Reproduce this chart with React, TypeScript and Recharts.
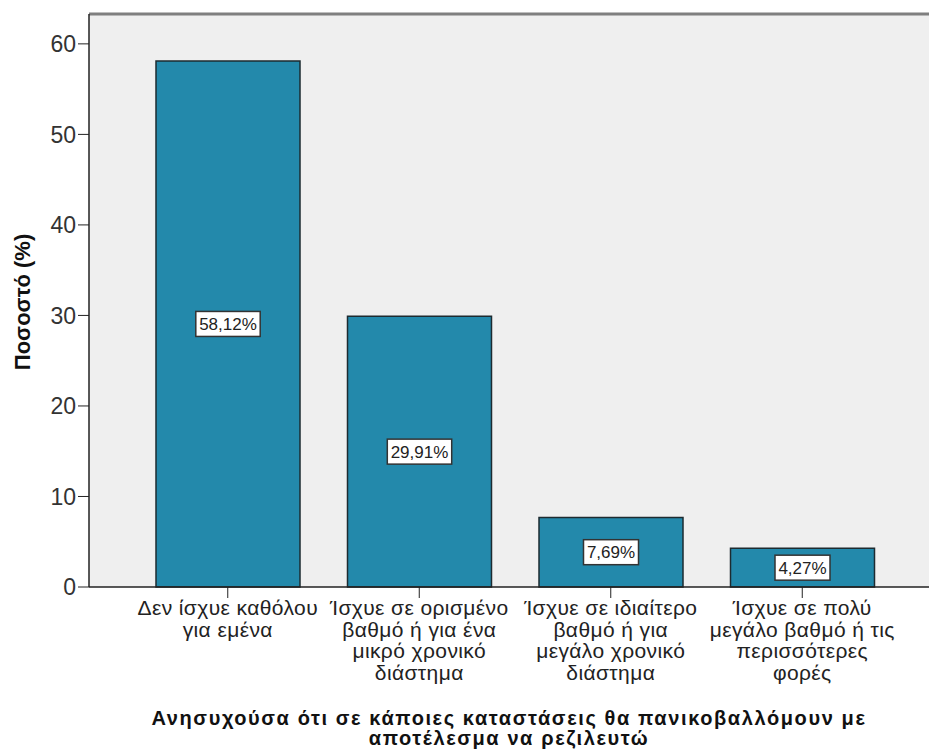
import { BarChart, Bar, XAxis, YAxis, CartesianGrid, ReferenceLine, LabelList } from "recharts";

const categories: Array<string> = [
  "Δεν ίσχυε καθόλου για εμένα",
  "Ίσχυε σε ορισμένο βαθμό ή για ένα μικρό χρονικό διάστημα",
  "Ίσχυε σε ιδιαίτερο βαθμό ή για μεγάλο χρονικό διάστημα",
  "Ίσχυε σε πολύ μεγάλο βαθμό ή τις περισσότερες φορές",
];

// how SPSS wrapped each category label
const categoryLines: Array<Array<string>> = [
  ["Δεν ίσχυε καθόλου", "για εμένα"],
  ["Ίσχυε σε ορισμένο", "βαθμό ή για ένα", "μικρό χρονικό", "διάστημα"],
  ["Ίσχυε σε ιδιαίτερο", "βαθμό ή για", "μεγάλο χρονικό", "διάστημα"],
  ["Ίσχυε σε πολύ", "μεγάλο βαθμό ή τις", "περισσότερες", "φορές"],
];

const percentages: Array<number> = [58.12, 29.91, 7.69, 4.27];
const yTicks: Array<number> = [0, 10, 20, 30, 40, 50, 60];
const yMax = 63.3;

const xTitle = [
  "Ανησυχούσα ότι σε κάποιες καταστάσεις θα πανικοβαλλόμουν με",
  "αποτέλεσμα να ρεζιλευτώ",
];
const yTitle = "Ποσοστό (%)";

const data = categories.map((name, i) => ({ name, value: percentages[i] }));

const FONT = "'Liberation Sans', Arial, sans-serif";

const CategoryTick = (props: any) => {
  const { x, y, payload } = props;
  const lines = categoryLines[payload.index] || [payload.value];
  return (
    <text textAnchor="middle" fontFamily={FONT} fontSize={21} letterSpacing={0.4} fill="#222">
      {lines.map((line, i) => (
        <tspan key={i} x={x} y={y + 17 + i * 21.5}>
          {line}
        </tspan>
      ))}
    </text>
  );
};

const ValueBox = (props: any) => {
  const { x, y, width, height, value } = props;
  const text = value.toFixed(2).replace(".", ",") + "%";
  const cx = x + width / 2;
  const cy = y + height / 2;
  const w = text.length * 9.4 + 8;
  return (
    <g>
      <rect x={cx - w / 2} y={cy - 12.5} width={w} height={25} fill="#fff" stroke="#333" strokeWidth={1.5} />
      <text x={cx} y={cy + 6} textAnchor="middle" fontFamily={FONT} fontSize={17} fill="#222">
        {text}
      </text>
    </g>
  );
};

const App = () => {
  return (
    <div style={{ position: "absolute", left: 0, top: 0, background: "#fff" }}>
      <BarChart
        width={929}
        height={755}
        data={data}
        margin={{ top: 14, right: 0, left: 0, bottom: 0 }}
        barSize={144}
      >
        <CartesianGrid fill="#efefef" horizontal={false} vertical={false} />
        <ReferenceLine y={yMax} stroke="#7f7f7f" strokeWidth={3} />
        <XAxis
          dataKey="name"
          height={168}
          padding={{ left: 43, right: 31 }}
          tickSize={11}
          tickMargin={0}
          tick={<CategoryTick />}
          interval={0}
          stroke="#222"
          axisLine={{ stroke: "#222", strokeWidth: 1.5 }}
          label={{
            content: (p: any) => {
              const vb = p.viewBox;
              const cx = vb.x + vb.width / 2;
              return (
                <text
                  textAnchor="middle"
                  fontFamily={FONT}
                  fontSize={20}
                  letterSpacing={1.6}
                  fontWeight="bold"
                  fill="#111"
                >
                  <tspan x={cx} y={725}>{xTitle[0]}</tspan>
                  <tspan x={cx} y={745}>{xTitle[1]}</tspan>
                </text>
              );
            },
          }}
        />
        <YAxis
          width={89}
          domain={[0, yMax]}
          ticks={yTicks}
          tickSize={11}
          tickMargin={2}
          stroke="#222"
          axisLine={{ stroke: "#222", strokeWidth: 1.5 }}
          tick={{ fontFamily: FONT, fontSize: 23, fill: "#333" }}
          label={{
            content: () => (
              <text
                x={30}
                y={302}
                transform="rotate(-90, 30, 302)"
                textAnchor="middle"
                fontFamily={FONT}
                fontSize={22}
                fontWeight="bold"
                fill="#111"
              >
                {yTitle}
              </text>
            ),
          }}
        />
        <Bar dataKey="value" fill="#2389ab" stroke="#1d2b30" strokeWidth={1.5} isAnimationActive={false}>
          <LabelList dataKey="value" content={<ValueBox />} />
        </Bar>
      </BarChart>
    </div>
  );
};

export default App;
